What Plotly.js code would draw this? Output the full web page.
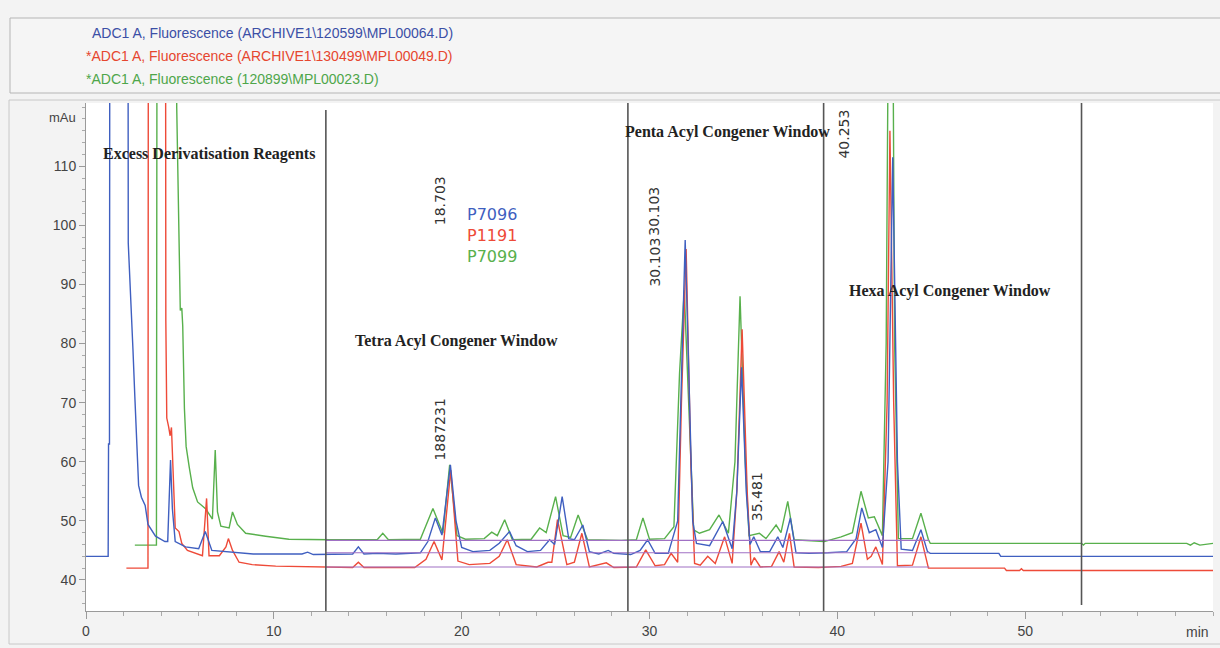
<!DOCTYPE html>
<html>
<head>
<meta charset="utf-8">
<script src="https://cdn.plot.ly/plotly-3.0.1.min.js"></script>
<style>
html,body{margin:0;padding:0;background:#f3f3f3;}
#chart{width:1220px;height:648px;}
</style>
</head>
<body>
<div id="chart"></div>
<script>
// ---- Data ----
const sampleNames = ["P7096", "P1191", "P7099"];
const legendFiles = [
  "ADC1 A, Fluorescence (ARCHIVE1\\120599\\MPL00064.D)",
  "*ADC1 A, Fluorescence (ARCHIVE1\\130499\\MPL00049.D)",
  "*ADC1 A, Fluorescence (120899\\MPL00023.D)"
];

// Blue trace (P7096): retention time (min) and signal (mAu)
const timeBlue = [0,1.18,1.2,1.25,1.28,2.22,2.25,2.4,2.5,2.6,2.7,2.8,2.95,3.15,3.3,3.7,4.2,4.35,4.5,4.6,4.75,5.3,6.0,6.35,6.7,7.8,8.9,11.5,11.8,12.1,13.5,14.2,14.5,14.8,15.5,16.5,17.8,18.2,18.6,18.95,19.4,19.7,20.0,20.6,21.5,22.0,22.55,22.9,23.5,24.2,24.68,24.95,25.35,25.7,26.0,26.45,26.8,27.3,27.8,28.1,29.0,29.5,29.9,30.3,31.0,31.5,31.75,31.9,32.05,32.3,32.5,33.2,33.9,34.4,34.65,34.9,35.15,35.35,35.55,35.9,36.4,36.83,37.1,37.5,37.8,38.5,39.5,40.5,41.0,41.3,41.7,42.05,42.4,42.7,42.95,43.2,43.4,44.0,44.45,44.8,44.95,48.6,48.7,60];
const mAuBlue  = [44.0,44.0,63,63,200,200,97,87,79,71,62.6,56,54,52.6,49.4,47.4,46.5,46.5,60.3,52,46.5,45.6,45.3,48.2,45.0,44.7,44.4,44.4,44.7,44.3,44.3,44.4,45.6,44.4,44.5,44.4,44.6,46.5,50.5,47.6,59.5,50,45.5,44.8,45.0,46.2,48.2,45.8,44.8,45.0,46.8,46.0,54.1,47.0,46.8,49.3,44.8,44.4,45.0,44.5,44.3,45.0,46.8,44.5,44.5,50,80,97.5,80,50,46.2,45.8,49.9,45.3,55,76,55,46.0,47.3,44.8,44.8,47.3,45.5,50.5,44.6,44.5,44.6,44.8,47,52.2,48,48.5,45.5,60,111.5,60,45.2,45.0,48.5,44.8,44.5,44.5,44.0,44.0];

// Red trace (P1191)
const timeRed = [2.15,3.3,3.33,4.22,4.25,4.3,4.4,4.48,4.55,4.65,4.75,4.95,5.1,5.4,6.0,6.2,6.42,6.55,7.1,7.45,7.58,7.8,8.15,8.85,10.1,13.0,14.2,14.5,14.8,16.0,17.5,18.1,18.53,18.95,19.42,19.8,20.4,21.5,22.0,22.43,22.9,24.0,24.6,24.8,25.1,25.6,26.0,26.4,26.8,27.7,28.1,29.3,29.8,30.3,30.8,31.15,31.5,31.7,31.95,32.2,32.4,32.7,33.1,33.5,34.0,34.4,34.65,34.93,35.2,35.4,35.58,35.9,36.5,36.9,37.15,37.45,37.7,39.0,40.2,40.8,41.26,41.6,41.8,42.05,42.4,42.65,42.8,43.0,43.2,44.0,44.45,44.85,48.9,49.0,49.7,49.8,49.9,60];
const mAuRed  = [42.0,42.0,200,200,83.8,67.4,65.9,64.4,65.8,56,48.8,48.2,46.2,45.0,44.4,44.1,53.8,44.1,44.1,45.6,47.0,45.0,43.0,42.6,42.35,42.1,42.1,43.0,42.1,42.1,42.1,43.5,46.5,43.4,58.6,43.2,42.6,42.8,44,46.8,42.6,42.2,43.0,43.0,50.2,42.6,43,47.9,42.2,42.9,42.1,42.2,45.1,42.4,42.6,44.5,43,70,96,60,42.8,42.5,44.0,42.8,47.3,42.8,55,82.4,55,42.5,43.8,42.2,42.3,44.8,43,47.9,42.2,42.1,42.3,42.8,49.6,43.5,44,45.6,42.6,70,116,70,42.4,42.5,47.3,42.0,42.0,41.6,41.6,41.9,41.6,41.6];

// Green trace (P7099)
const timeGreen = [2.6,3.75,3.8,4.8,4.83,4.93,5.02,5.1,5.15,5.24,5.33,5.5,5.68,5.94,6.38,6.73,6.88,7.0,7.18,7.62,7.8,8.06,8.5,9.56,10.8,13.0,15.5,15.8,16.1,17.8,18.47,19.0,19.36,19.75,20.2,21.2,21.6,21.9,22.29,22.7,23.7,24.15,24.5,25.0,25.4,25.8,26.2,26.7,28.5,29.3,29.65,30.0,30.8,31.3,31.6,31.85,32.1,32.35,32.66,33.2,33.7,34.2,34.55,34.82,35.1,35.3,35.85,36.2,36.74,37.0,37.36,37.7,39.3,40.2,40.8,41.26,41.65,41.97,42.4,42.6,42.85,43.05,43.25,44.0,44.45,44.85,44.95,53.0,53.1,53.2,58.6,58.8,59.0,59.3,60];
const mAuGreen  = [45.9,45.9,200,200,120,99,85.6,86.0,83,69,62.6,59,55.6,53.2,52,50.3,62,51.5,49.1,48.8,51.5,49.4,47.9,47.4,46.9,46.8,46.8,47.9,46.8,46.9,52.1,47.9,59.5,47.5,46.9,47.0,48.1,47.5,50.2,46.8,46.9,48.8,48.0,54.1,47.5,47.2,51.0,46.8,46.7,46.8,50.5,46.9,47.0,49,75,89,70,48.5,47.9,48.5,51.0,47.9,60,88.0,60,47.5,47.9,47,49.3,48,53.3,46.8,46.5,47.3,48.0,55.0,50.5,50.7,47.5,80,200,80,47.0,47.0,51.3,46.8,46.2,46.2,45.9,46.2,46.2,45.9,46.3,45.9,46.2];

// Integration baselines (purple) across the congener windows
const baselineTime = [12.77, 44.9];
const baselineGreen = [46.7, 46.7];
const baselineBlue = [44.6, 44.6];
const baselineRed = [42.2, 42.2];

// Window boundaries (min)
const windowLines = [12.77, 28.85, 39.27, 53.0];
const windowLabels = ["Excess Derivatisation Reagents", "Tetra Acyl Congener Window", "Penta Acyl Congener Window", "Hexa Acyl Congener Window"];
const windowLabelX = [6.54, 19.73, 34.15, 46.0];
const windowLabelY = [112.1, 80.4, 115.8, 88.9];

// Retention-time peak labels
const peakLabels = ["18.703", "1887231", "30.103", "30.103", "35.481", "40.253"];
const peakLabelX = [18.83, 18.83, 30.27, 30.27, 35.7, 40.37];
const peakLabelY = [104.2, 65.4, 102.4, 93.8, 54.1, 115.4];

const xTicks = [0, 10, 20, 30, 40, 50];
const yTicks = [40, 50, 60, 70, 80, 90, 100, 110];

// ---- Styling ----
const cBlue = "#3f5fc0", cRed = "#ee4a38", cGreen = "#58b04c", cPurple = "#a070c4";
const W = 1220, H = 648, L = 86, R = 7, T = 103, B = 37;
const pw = W - L - R, ph = H - T - B;
const px = v => (v - L) / pw;          // pixel x -> paper
const py = v => (H - B - v) / ph;      // pixel y -> paper

const line = (x, y, c, w) => ({x: x, y: y, type: "scatter", mode: "lines",
  line: {color: c, width: w}, hoverinfo: "skip", showlegend: false});

const data = [
  line(timeGreen, mAuGreen, cGreen, 1.4),
  line(timeRed, mAuRed, cRed, 1.4),
  line(timeBlue, mAuBlue, cBlue, 1.4),
  line(baselineTime, baselineGreen, cPurple, 1.1),
  line(baselineTime, baselineBlue, cPurple, 1.1),
  line(baselineTime, baselineRed, cPurple, 1.1)
];

const shapes = [
  {type: "rect", xref: "paper", yref: "paper", x0: px(10), x1: px(1232), y0: py(18), y1: py(93),
   line: {color: "#b5b5b5", width: 1}, fillcolor: "#f5f5f5", layer: "below"},
  {type: "rect", xref: "paper", yref: "paper", x0: px(9), x1: px(1232), y0: py(100), y1: py(644),
   line: {color: "#c8c8c8", width: 1}, fillcolor: "rgba(0,0,0,0)", layer: "below"}
];
windowLines.forEach((t, i) => shapes.push({type: "line", xref: "x", yref: "paper",
  x0: t, x1: t, y0: (i === 3 ? py(605) : 0), y1: (i === 0 ? py(110) : 1),
  line: {color: "#555555", width: 1.6}}));

const annotations = [];
windowLabels.forEach((s, i) => annotations.push({text: "<b>" + s + "</b>", x: windowLabelX[i], y: windowLabelY[i],
  xref: "x", yref: "y", xanchor: "center", yanchor: "middle", showarrow: false,
  font: {family: "Liberation Serif", size: 16, color: "#222"}}));
peakLabels.forEach((s, i) => annotations.push({text: s, x: peakLabelX[i], y: peakLabelY[i], xref: "x", yref: "y",
  xanchor: "center", yanchor: "middle", showarrow: false, textangle: -90,
  font: {family: "DejaVu Sans", size: 14, color: "#333"}}));
const sampleColors = [cBlue, cRed, cGreen];
sampleNames.forEach((s, i) => annotations.push({text: s, x: 21.6, y: 101.9 - i * 3.6, xref: "x", yref: "y",
  xanchor: "center", yanchor: "middle", showarrow: false,
  font: {family: "DejaVu Sans", size: 16, color: sampleColors[i]}}));
const legendColors = ["#3b4fa6", "#e6462f", "#4ea64a"];
const legendX = [90, 84, 84];
legendFiles.forEach((s, i) => annotations.push({text: s, xref: "paper", yref: "paper",
  x: px(legendX[i]), y: py(33 + i * 23), xanchor: "left", yanchor: "middle", showarrow: false,
  font: {family: "Liberation Sans", size: 14, color: legendColors[i]}}));
annotations.push({text: "mAu", xref: "paper", yref: "paper", x: px(62), y: py(118),
  xanchor: "center", yanchor: "middle", showarrow: false,
  font: {family: "Liberation Sans", size: 13, color: "#444"}});
annotations.push({text: "min", xref: "paper", yref: "paper", x: px(1197), y: py(632),
  xanchor: "center", yanchor: "middle", showarrow: false,
  font: {family: "Liberation Sans", size: 14, color: "#444"}});

const layout = {
  width: W, height: H,
  margin: {l: L, r: R, t: T, b: B, pad: 0},
  paper_bgcolor: "#f3f3f3",
  plot_bgcolor: "#ffffff",
  showlegend: false,
  xaxis: {range: [0, 60], tickvals: xTicks, showgrid: false, zeroline: false,
    showline: true, linecolor: "#9a9a9a", linewidth: 1,
    ticks: "outside", ticklen: 7, tickcolor: "#9a9a9a",
    minor: {dtick: 2, ticks: "outside", ticklen: 4, tickcolor: "#aaaaaa", showgrid: false},
    tickfont: {family: "Liberation Sans", size: 14, color: "#444"}},
  yaxis: {range: [34.75, 120.7], tickvals: yTicks, showgrid: false, zeroline: false,
    showline: true, linecolor: "#9a9a9a", linewidth: 1,
    ticks: "outside", ticklen: 6, tickcolor: "#9a9a9a",
    minor: {dtick: 2, ticks: "outside", ticklen: 3, tickcolor: "#aaaaaa", showgrid: false},
    tickfont: {family: "Liberation Sans", size: 14, color: "#444"}},
  shapes: shapes,
  annotations: annotations
};

Plotly.newPlot("chart", data, layout, {displayModeBar: false, staticPlot: true});
</script>
</body>
</html>
